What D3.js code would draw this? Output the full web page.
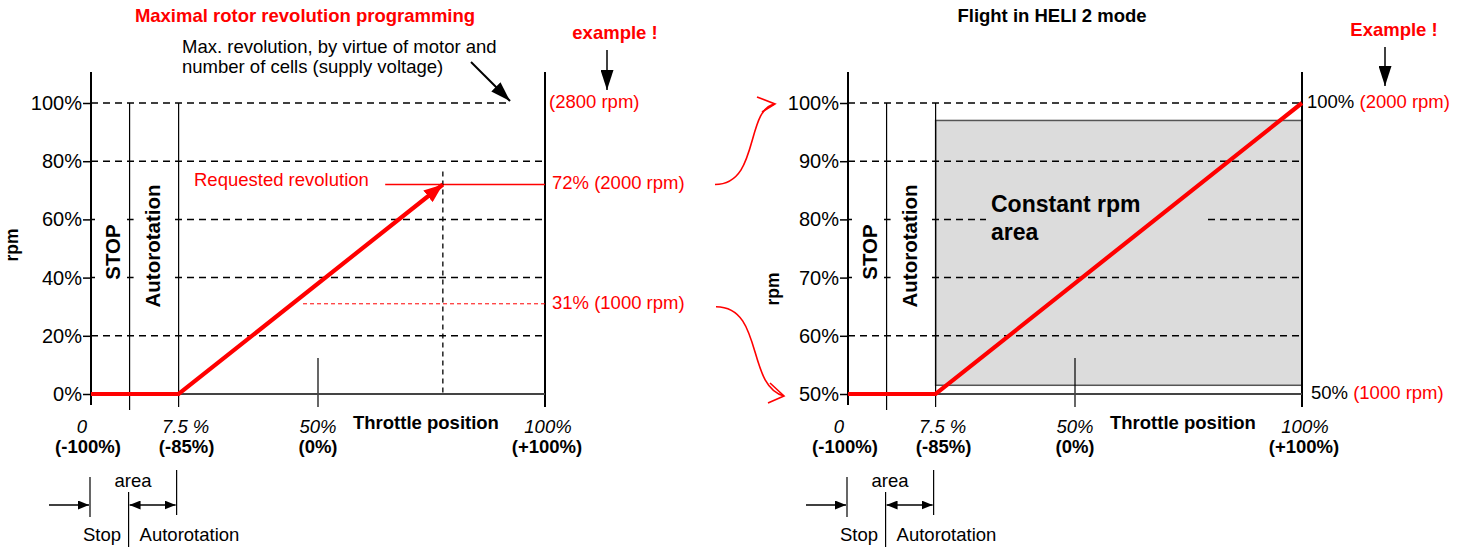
<!DOCTYPE html>
<html><head><meta charset="utf-8">
<script src="https://cdn.jsdelivr.net/npm/d3@7"></script>
<style>
body{margin:0;background:#fff;}
svg{display:block;font-family:Arial,"Liberation Sans",sans-serif;}
</style></head><body>
<svg id="c" width="1466" height="552"></svg>
<script>
// ---------------- data ----------------
const leftTitle = "Maximal rotor revolution programming";
const rightTitle = "Flight in HELI 2 mode";
const leftYTicks = [0, 20, 40, 60, 80, 100];
const rightYTicks = [50, 60, 70, 80, 90, 100];
const throttleTicks = [0, 19.3, 50, 100];            // schematic positions on the throttle axis
const throttleTopLabels = ["0", "7.5 %", "50%", "100%"];
const throttleBottomLabels = ["(-100%)", "(-85%)", "(0%)", "(+100%)"];
const stopEnd = 8.5;                                  // end of stop area (throttle axis units)
const autoEnd = 19.3;                                 // end of autorotation area
const leftCurveThrottle = [0, 19.3, 77.5];
const leftCurveRpm = [0, 0, 72];
const rightCurveThrottle = [0, 19.3, 100];
const rightCurveRpm = [50, 50, 100];
const requestedRpm = 72, requestedFrom = 64.8;
const lowerRpm = 31, lowerFrom = 46.7;
const maxRevEnd = 92.3;
const constArea = {t0: 19.3, t1: 100, r0: 51.5, r1: 97};
const leftLabels = {max: "(2800 rpm)", req: "72% (2000 rpm)", low: "31% (1000 rpm)"};
const rightLabels = {topBlack: "100%", topRed: " (2000 rpm)", botBlack: "50%", botRed: " (1000 rpm)"};

// ---------------- setup ----------------
const svg = d3.select("#c");
const defs = svg.append("defs");
function marker(id, w, h, color) {
  defs.append("marker").attr("id", id).attr("markerUnits", "userSpaceOnUse")
    .attr("markerWidth", w).attr("markerHeight", h).attr("refX", w).attr("refY", h / 2)
    .attr("orient", "auto-start-reverse")
    .append("path").attr("d", `M0,0L${w},${h/2}L0,${h}Z`).attr("fill", color);
}
marker("ahBig", 20, 13, "#000");
marker("ahSmall", 11, 9, "#000");
marker("ahRed", 19, 15, "#f00");

const FS = 18.5;
function text(x, y, s, o = {}) {
  const t = svg.append("text").attr("x", x).attr("y", y).text(s)
    .attr("font-size", o.size || FS).attr("fill", o.fill || "#000")
    .attr("text-anchor", o.anchor || "start");
  if (o.bold) t.attr("font-weight", "bold");
  if (o.italic) t.attr("font-style", "italic");
  return t;
}
function vtext(cx, cy, s, size) {
  svg.append("text").attr("transform", `translate(${cx},${cy}) rotate(-90)`)
    .attr("text-anchor", "middle").attr("dominant-baseline", "central")
    .attr("font-weight", "bold").attr("font-size", size).text(s);
}
function line(x1, y1, x2, y2, o = {}) {
  const l = svg.append("line").attr("x1", x1).attr("y1", y1).attr("x2", x2).attr("y2", y2)
    .attr("stroke", o.stroke || "#000").attr("stroke-width", o.w || 1.3);
  if (o.dash) l.attr("stroke-dasharray", o.dash);
  if (o.end) l.attr("marker-end", `url(#${o.end})`);
  if (o.start) l.attr("marker-start", `url(#${o.start})`);
  return l;
}

const dxTop = [-9, 7, 0, 3], dxBot = [-3, 8, 0, 2];

function drawChart(x, y, yTicks, opts) {
  const x0 = x(0), x1 = x(100), xs = x(stopEnd), xa = x(autoEnd);
  const yb = y(y.domain()[0]), yt = y(100);

  if (opts.area) {
    svg.append("rect").attr("x", x(opts.area.t0)).attr("y", y(opts.area.r1))
      .attr("width", x(opts.area.t1) - x(opts.area.t0)).attr("height", y(opts.area.r0) - y(opts.area.r1))
      .attr("fill", "#dcdcdc").attr("stroke", "#555").attr("stroke-width", 1.5);
  }
  // grid
  yTicks.filter(d => d !== y.domain()[0]).forEach(d => {
    const xe = (d === 100 && opts.gridTopEnd != null) ? x(opts.gridTopEnd) : x1;
    line(x0, y(d), xe, y(d), {w: 1.5, dash: "7,5"});
  });
  // white boxes behind vertical labels
  svg.append("rect").attr("x", x0 + 4).attr("y", 190).attr("width", xs - x0 - 8).attr("height", 110).attr("fill", "#fff");
  svg.append("rect").attr("x", xs + 4).attr("y", 180).attr("width", xa - xs - 8).attr("height", 132).attr("fill", "#fff");

  // axes
  line(x0, 72, x0, yb + 11, {w: 2});
  line(x1, 72, x1, yb + 13, {w: 2});
  line(xs, yt, xs, yb + 16, {w: 1.2});
  line(xa, yt, xa, yb + 13, {w: 1.2});
  line(x(50), yb - 36, x(50), yb + 13, {w: 1.2});
  line(xa, yb, x1, yb, {w: 2.2, stroke: "#444"});

  const ax = svg.append("g").attr("transform", `translate(${x0},0)`)
    .call(d3.axisLeft(y).tickValues(yTicks).tickFormat(d => d + "%").tickSize(8).tickPadding(1));
  ax.select(".domain").remove();
  ax.selectAll(".tick line").attr("stroke", "#000").attr("stroke-width", 1.5);
  ax.selectAll(".tick text").attr("font-size", 20).attr("fill", "#000")
    .attr("font-family", "Arial, 'Liberation Sans', sans-serif");

  // throttle labels
  throttleTicks.forEach((t, i) => {
    text(x(t) + dxTop[i], 433, throttleTopLabels[i], {italic: true, anchor: "middle"});
    text(x(t) + dxBot[i], 453, throttleBottomLabels[i], {bold: true, anchor: "middle"});
  });
  text(x(50) + 35, 429, "Throttle position", {bold: true});

  // vertical labels
  vtext(x0 + 21, 252, "STOP", 20.5);
  vtext(xs + 22.5, 246, "Autorotation", 20.5);
  vtext(opts.rpmX, opts.rpmY, "rpm", 17.5);

  // bottom annotation
  line(x0 - 1, 477, x0 - 1, 517, {w: 1.2});
  line(xs - 1, 492, xs - 1, 547, {w: 1.2});
  line(xa - 2, 470, xa - 2, 515, {w: 1.2});
  line(x0 - 42, 505, x0 - 2, 505, {w: 1.5, end: "ahSmall"});
  line(xs, 505, xa - 3, 505, {w: 1.5, end: "ahSmall", start: "ahSmall"});
  text(xs + 3.5, 487, "area", {anchor: "middle"});
  text(xs - 8.5, 541, "Stop", {anchor: "end"});
  text(xs + 10, 541, "Autorotation");

  return {x0, x1, xs, xa, yb};
}

// ---------------- left chart ----------------
const xL = d3.scaleLinear().domain([0, 100]).range([91, 545]);
const yL = d3.scaleLinear().domain([0, 100]).range([394, 103]);
drawChart(xL, yL, leftYTicks, {gridTopEnd: maxRevEnd, rpmX: 12, rpmY: 245});

text(305, 22, leftTitle, {bold: true, fill: "#f00", anchor: "middle"});
text(615, 39, "example !", {bold: true, fill: "#f00", anchor: "middle"});
line(xL(100) + 62, 50, xL(100) + 62, 90, {w: 1.5, end: "ahBig"});
text(182, 53, "Max. revolution, by virtue of motor and");
text(182, 73, "number of cells (supply voltage)");
line(471, 62, xL(maxRevEnd), yL(100) - 2, {w: 2, end: "ahBig"});

line(xL(requestedFrom), yL(requestedRpm), xL(100), yL(requestedRpm), {stroke: "#f00", w: 1.3});
line(xL(lowerFrom), yL(lowerRpm), xL(100), yL(lowerRpm), {stroke: "#f00", w: 1, dash: "4,3"});
line(xL(leftCurveThrottle[2]), yL(requestedRpm) - 13, xL(leftCurveThrottle[2]), yL(0), {w: 1.3, dash: "5,4"});
text(194, 186, "Requested revolution", {fill: "#f00"});
text(xL(100) + 4, 108, leftLabels.max, {fill: "#f00"});
text(xL(100) + 7, 189, leftLabels.req, {fill: "#f00"});
text(xL(100) + 7, 309, leftLabels.low, {fill: "#f00"});

const lineGen = (x, y) => d3.line().x(d => x(d[0])).y(d => y(d[1]));
svg.append("path").datum(leftCurveThrottle.map((t, i) => [t, leftCurveRpm[i]]))
  .attr("d", lineGen(xL, yL)).attr("fill", "none").attr("stroke", "#f00").attr("stroke-width", 4.2)
  .attr("marker-end", "url(#ahRed)");

// ---------------- right chart ----------------
const xR = d3.scaleLinear().domain([0, 100]).range([848, 1302]);
const yR = d3.scaleLinear().domain([50, 100]).range([394, 103]);
drawChart(xR, yR, rightYTicks, {area: constArea, rpmX: 773, rpmY: 289});

// box behind "Constant rpm area" text
svg.append("rect").attr("x", 986).attr("y", 198).attr("width", 217).attr("height", 52).attr("fill", "#dcdcdc");
text(991, 212, "Constant rpm", {bold: true, size: 23});
text(991, 240, "area", {bold: true, size: 23});

text(1052, 22, rightTitle, {bold: true, anchor: "middle"});
text(1394, 36, "Example !", {bold: true, fill: "#f00", anchor: "middle"});
line(xR(100) + 83, 47, xR(100) + 83, 86, {w: 1.5, end: "ahBig"});

const t1 = text(xR(100) + 5, 108, "");
t1.append("tspan").text(rightLabels.topBlack);
t1.append("tspan").attr("fill", "#f00").text(rightLabels.topRed);
const t2 = text(xR(100) + 9, 399, "");
t2.append("tspan").text(rightLabels.botBlack);
t2.append("tspan").attr("fill", "#f00").text(rightLabels.botRed);

svg.append("path").datum(rightCurveThrottle.map((t, i) => [t, rightCurveRpm[i]]))
  .attr("d", lineGen(xR, yR)).attr("fill", "none").attr("stroke", "#f00").attr("stroke-width", 4.2);

// ---------------- connectors ----------------
function connector(s, e, c1, c2, arm1, arm2) {
  const p = d3.path();
  p.moveTo(s[0], s[1]);
  p.bezierCurveTo(c1[0], c1[1], c2[0], c2[1], e[0], e[1]);
  svg.append("path").attr("d", p.toString()).attr("fill", "none").attr("stroke", "#f00").attr("stroke-width", 1.6);
  svg.append("path").attr("d", `M${e[0]+arm1[0]},${e[1]+arm1[1]}L${e[0]},${e[1]}L${e[0]+arm2[0]},${e[1]+arm2[1]}`)
    .attr("fill", "none").attr("stroke", "#f00").attr("stroke-width", 1.6);
}
const cs1 = [xL(100) + 170, yL(requestedRpm)], ce1 = [xR(0) - 73, yR(100) + 1];
connector(cs1, ce1, [cs1[0] + 45, cs1[1]], [ce1[0] - 30, ce1[1] + 5], [-18, -7], [-13, 8]);
const cs2 = [xL(100) + 171, yL(lowerRpm) + 3], ce2 = [xR(0) - 64, yR(50) + 2];
connector(cs2, ce2, [cs2[0] + 48, cs2[1]], [ce2[0] - 38, ce2[1] - 10], [-14, -13], [-16, 7]);
</script>
</body></html>
